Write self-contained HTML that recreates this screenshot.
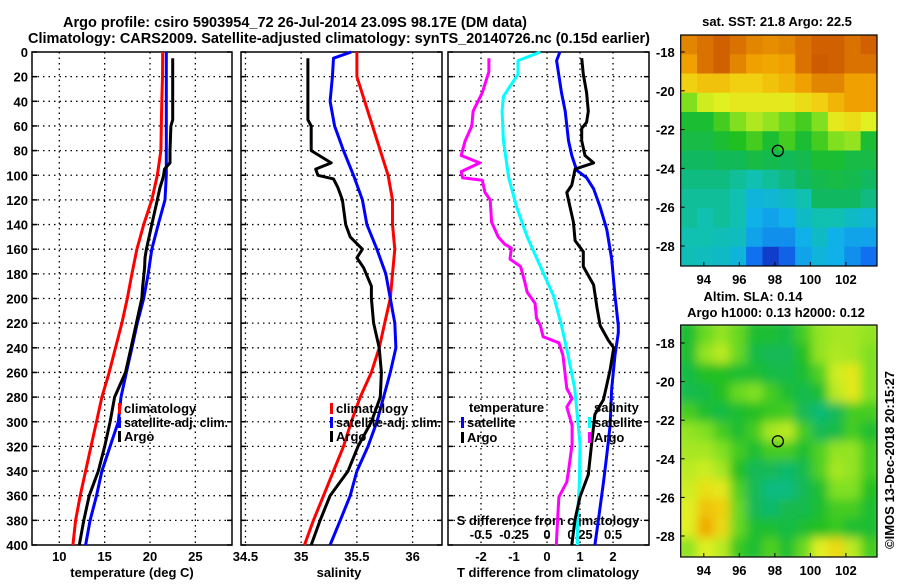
<!DOCTYPE html>
<html><head><meta charset="utf-8"><style>
html,body{margin:0;padding:0;background:#fff}
svg text{font-family:"Liberation Sans",Arial,sans-serif;font-weight:bold;fill:#000}
</style></head><body>
<svg id="chart" width="900" height="580" viewBox="0 0 900 580" xmlns="http://www.w3.org/2000/svg">
<rect width="900" height="580" fill="#fff"/>
<text x="63" y="27" font-size="14.5" textLength="464" lengthAdjust="spacingAndGlyphs">Argo profile: csiro 5903954_72 26-Jul-2014 23.09S 98.17E (DM data)</text>
<text x="28" y="43" font-size="14.5" textLength="622" lengthAdjust="spacingAndGlyphs">Climatology: CARS2009. Satellite-adjusted climatology: synTS_20140726.nc (0.15d earlier)</text>
<g id="g"></g>
</svg>
<script>
// ---- data ----
const climDepth=[0,20,40,60,80,100,120,140,160,180,200,220,240,260,280,300,320,340,360,380,400];
const climTemp=[21.4,21.38,21.3,21.25,21.2,20.8,20.2,19.3,18.55,18.0,17.5,16.9,16.2,15.5,14.7,14.1,13.5,12.9,12.3,11.8,11.5];
const satTemp=[21.8,21.8,21.8,21.8,21.8,21.8,21.65,20.9,20.2,19.8,19.3,18.6,18.0,17.4,16.8,16.5,15.6,14.7,14.1,13.4,12.9];
const climSal=[35.50,35.50,35.57,35.64,35.71,35.78,35.82,35.82,35.84,35.82,35.80,35.75,35.70,35.63,35.53,35.45,35.38,35.29,35.20,35.11,35.03];
const satSalDepth=[0,5,20,40,60,80,100,120,140,160,180,200,220,240,260,280,300,320,340,360,380,400];
const satSal=[35.45,35.29,35.28,35.26,35.30,35.38,35.47,35.55,35.59,35.68,35.76,35.80,35.84,35.85,35.80,35.74,35.68,35.60,35.50,35.44,35.35,35.26];
const argoDepth=[5,20,40,55,60,80,90,95,100,103,110,120,140,150,160,167,175,190,200,220,240,260,280,300,320,340,360,380,400];
const argoTemp=[22.5,22.5,22.5,22.5,22.3,22.2,22.2,21.6,21.5,21.4,21.1,20.8,20.2,19.9,19.6,19.45,19.4,19.2,19.1,18.5,17.9,17.3,16.1,15.6,15.0,14.3,13.3,12.7,12.2];
const argoSal=[35.06,35.06,35.06,35.06,35.09,35.09,35.27,35.13,35.15,35.29,35.33,35.37,35.40,35.44,35.55,35.50,35.56,35.63,35.63,35.65,35.70,35.72,35.71,35.63,35.51,35.42,35.26,35.17,35.09];
const dSalArgoDepth=[5,16,33,48,60,72,84,90,97,102,104,114,120,138,150,156,159,168,174,186,195,204,216,222,231,236,246,273,281,288,303,318,334,349,361,379,400];
const dSalArgo=[-0.44,-0.44,-0.49,-0.56,-0.57,-0.62,-0.65,-0.51,-0.65,-0.64,-0.49,-0.47,-0.43,-0.42,-0.37,-0.32,-0.27,-0.28,-0.20,-0.17,-0.15,-0.09,-0.08,-0.05,-0.03,0.09,0.12,0.15,0.19,0.15,0.19,0.19,0.17,0.15,0.09,0.08,0.07];
const dSalSatDepth=[0,7,18,36,48,72,102,126,150,174,198,222,246,273,318,349,379,400];
const dSalSat=[-0.05,-0.22,-0.22,-0.33,-0.34,-0.33,-0.29,-0.23,-0.15,-0.05,0.05,0.11,0.16,0.21,0.25,0.245,0.23,0.23];
const dTempSatDepth=[0,7,33,48,72,84,96,102,111,126,144,168,198,222,228,246,273,303,327,349,379,400];
const dTempSat=[0.39,0.29,0.44,0.55,0.65,0.75,0.90,1.2,1.41,1.61,1.81,1.96,2.06,2.16,2.16,2.06,1.96,1.91,1.81,1.71,1.56,1.45];
const dTempArgoDepth=[5,18,33,48,57,62,72,84,90,95,108,114,126,138,153,162,174,189,207,222,234,240,258,282,294,318,343,361,379,400];
const dTempArgo=[1.05,1.10,1.20,1.25,1.20,1.05,1.05,1.15,1.41,0.85,0.75,0.60,0.70,0.80,0.85,1.10,1.10,1.41,1.51,1.61,1.86,2.02,1.91,1.71,1.45,1.35,1.25,1.0,0.85,0.75];
const depthTicks=[0,20,40,60,80,100,120,140,160,180,200,220,240,260,280,300,320,340,360,380,400];
const tempTicks=[10,15,20,25];
const salTicks=[34.5,35,35.5,36];
const dTempTicks=[-2,-1,0,1,2];
const dSalTickLabels=["-0.5","-0.25","0","0.25","0.5"];
const dSalTicks=[-0.5,-0.25,0,0.25,0.5];
const sstGrid=[
[0.88,0.9,0.92,0.9,0.88,0.87,0.88,0.9,0.92,0.92,0.9,0.92],
[0.85,0.9,0.92,0.88,0.85,0.84,0.85,0.9,0.93,0.92,0.9,0.9],
[0.78,0.8,0.8,0.78,0.78,0.8,0.82,0.85,0.88,0.88,0.85,0.85],
[0.6,0.68,0.7,0.72,0.72,0.72,0.72,0.75,0.78,0.82,0.85,0.85],
[0.5,0.5,0.55,0.6,0.65,0.62,0.58,0.55,0.6,0.72,0.75,0.7],
[0.48,0.48,0.5,0.52,0.55,0.5,0.55,0.5,0.55,0.6,0.62,0.5],
[0.45,0.45,0.46,0.46,0.48,0.47,0.46,0.47,0.5,0.5,0.48,0.48],
[0.42,0.42,0.42,0.4,0.38,0.4,0.42,0.45,0.47,0.48,0.47,0.45],
[0.4,0.4,0.4,0.38,0.32,0.33,0.35,0.38,0.45,0.45,0.45,0.42],
[0.4,0.38,0.4,0.38,0.3,0.28,0.3,0.35,0.38,0.38,0.35,0.33],
[0.38,0.38,0.37,0.36,0.28,0.25,0.25,0.3,0.35,0.3,0.28,0.28],
[0.37,0.36,0.35,0.32,0.2,0.12,0.18,0.28,0.32,0.3,0.25,0.2]];
const slaGrid=[
[0.5,0.58,0.62,0.58,0.5,0.5,0.48,0.55,0.62,0.64,0.64,0.62],
[0.5,0.62,0.66,0.58,0.48,0.46,0.46,0.52,0.62,0.65,0.64,0.6],
[0.48,0.52,0.52,0.5,0.5,0.48,0.47,0.5,0.56,0.68,0.72,0.6],
[0.47,0.48,0.52,0.58,0.6,0.55,0.5,0.47,0.5,0.66,0.72,0.6],
[0.55,0.5,0.48,0.5,0.52,0.54,0.55,0.46,0.43,0.46,0.55,0.55],
[0.62,0.6,0.55,0.5,0.55,0.64,0.66,0.55,0.46,0.48,0.55,0.5],
[0.64,0.64,0.6,0.55,0.5,0.55,0.55,0.5,0.56,0.62,0.62,0.55],
[0.66,0.68,0.64,0.52,0.46,0.46,0.44,0.47,0.56,0.64,0.62,0.55],
[0.68,0.74,0.72,0.56,0.46,0.42,0.42,0.46,0.5,0.6,0.6,0.52],
[0.7,0.8,0.78,0.58,0.46,0.44,0.47,0.47,0.5,0.55,0.55,0.5],
[0.7,0.84,0.76,0.58,0.5,0.5,0.48,0.5,0.52,0.54,0.5,0.5],
[0.62,0.7,0.66,0.54,0.5,0.56,0.5,0.58,0.7,0.76,0.66,0.55]];
const lonTicks=[94,96,98,100,102];
const latTicks=[-18,-20,-22,-24,-26,-28];
const argoPos=[98.17,-23.09];

// ---- drawing ----
const NS='http://www.w3.org/2000/svg';
const G=document.getElementById('g');
function mk(tag,attrs,parent,txt){const e=document.createElementNS(NS,tag);for(const k in attrs)e.setAttribute(k,attrs[k]);if(txt!==undefined)e.textContent=txt;(parent||G).appendChild(e);return e;}
const Y0=52,Y1=545;
const yD=d=>Y0+d*(Y1-Y0)/400;
const panels=[
 {name:'temperature',x0:32,x1:232,vmin:6.99,vmax:29.04},
 {name:'salinity',x0:241,x1:442,vmin:34.46,vmax:36.264},
 {name:'difference',x0:448,x1:649,vmin:-3,vmax:3.09}];
function xf(p){return v=>p.x0+(v-p.vmin)*(p.x1-p.x0)/(p.vmax-p.vmin);}
const xT=xf(panels[0]),xS=xf(panels[1]),xDT=xf(panels[2]);
const xDS=v=>xDT(v*4);

function frame(p,xticks,xs){
  const g=mk('g',{});
  
  
  depthTicks.forEach(d=>{ if(d>0&&d<400) mk('line',{x1:p.x0,x2:p.x1,y1:yD(d),y2:yD(d),stroke:'#000','stroke-width':1.3,'stroke-dasharray':'1.5,4'},g);
    mk('line',{x1:p.x0,x2:p.x0+5,y1:yD(d),y2:yD(d),stroke:'#000','stroke-width':1.5},g);
    mk('line',{x1:p.x1-5,x2:p.x1,y1:yD(d),y2:yD(d),stroke:'#000','stroke-width':1.5},g);});
  xticks.forEach(v=>{const x=xs(v); mk('line',{x1:x,x2:x,y1:Y0,y2:Y1,stroke:'#000','stroke-width':1.3,'stroke-dasharray':'1.5,4'},g);});
  const r=mk('rect',{x:p.x0,y:Y0,width:p.x1-p.x0,height:Y1-Y0,fill:'none',stroke:'#000','stroke-width':1.5},g);
  
  
  return g;
}
function line(depths,vals,xs,color,name,w){
  const pts=depths.map((d,i)=>xs(vals[i]).toFixed(1)+','+yD(d).toFixed(1)).join(' ');
  const e=mk('polyline',{points:pts,fill:'none',stroke:color,'stroke-width':w||3,'stroke-linejoin':'round'});
  
  
}
function txt(x,y,s,size,anchor,name){const e=mk('text',{x:x,y:y,'font-size':size,'text-anchor':anchor||'start'},G,s);
  
  return e;}
function legendItem(x,y,color,label,name,tl){
  const b=mk('rect',{x:x,y:y-10,width:3,height:11,fill:color});
  
  
  const t=txt(x+6,y,label,13,'start',name+'-label');
  if(tl){t.setAttribute('textLength',tl);t.setAttribute('lengthAdjust','spacingAndGlyphs');}
}

frame(panels[0],tempTicks,xT);
frame(panels[1],salTicks,xS);
frame(panels[2],dTempTicks,xDT);

depthTicks.forEach(d=>txt(28,yD(d)+5,String(d),13,'end','depth-tick-label'));
tempTicks.forEach(v=>txt(xT(v),561,String(v),13,'middle','temperature-tick-label'));
salTicks.forEach(v=>txt(xS(v),561,String(v),13,'middle','salinity-tick-label'));
dTempTicks.forEach(v=>txt(xDT(v),561,String(v),13,'middle','t-difference-tick-label'));
dSalTicks.forEach((v,i)=>txt(xDS(v),539,dSalTickLabels[i],13,'middle','s-difference-tick-label'));
txt(132,577,'temperature (deg C)',13,'middle','temperature-axis-title');
txt(339,577,'salinity',13,'middle','salinity-axis-title');
txt(548,577,'T difference from climatology',13,'middle','t-difference-axis-title');
txt(548,525,'S difference from climatology',13,'middle','s-difference-axis-title');

line(climDepth,climTemp,xT,'#ff0000','climatology-temperature-line');
line(climDepth,satTemp,xT,'#0000ff','satellite-temperature-line');
line(argoDepth,argoTemp,xT,'#000000','argo-temperature-line');
line(climDepth,climSal,xS,'#ff0000','climatology-salinity-line');
line(satSalDepth,satSal,xS,'#0000ff','satellite-salinity-line');
line(argoDepth,argoSal,xS,'#000000','argo-salinity-line');
line(dSalArgoDepth,dSalArgo,xDS,'#ff00ff','argo-salinity-difference-line');
line(dSalSatDepth,dSalSat,xDS,'#00ffff','satellite-salinity-difference-line');
line(dTempSatDepth,dTempSat,xDT,'#0000ff','satellite-temperature-difference-line');
line(dTempArgoDepth,dTempArgo,xDT,'#000000','argo-temperature-difference-line');

legendItem(118,413,'#ff0000','climatology','legend-climatology');
legendItem(118,427,'#0000ff','satellite-adj. clim.','legend-satellite-adj',104);
legendItem(118,441,'#000000','Argo','legend-argo');
legendItem(330,413,'#ff0000','climatology','legend-climatology-sal');
legendItem(330,427,'#0000ff','satellite-adj. clim.','legend-satellite-adj-sal',105);
legendItem(330,441,'#000000','Argo','legend-argo-sal');
txt(469,412,'temperature',13,'start','legend-temperature-heading');
legendItem(461,427,'#0000ff','satellite','legend-temp-satellite');
legendItem(461,442,'#000000','Argo','legend-temp-argo');
txt(594,412,'salinity',13,'start','legend-salinity-heading');
legendItem(588,427,'#00ffff','satellite','legend-sal-satellite');
legendItem(588,442,'#ff00ff','Argo','legend-sal-argo');

// colormap
const cmStops=[[0,[16,32,170]],[0.1,[16,48,192]],[0.2,[16,112,240]],[0.3,[16,176,232]],[0.38,[16,192,176]],[0.45,[16,184,96]],[0.52,[32,192,32]],[0.6,[128,224,32]],[0.7,[224,240,32]],[0.78,[240,208,16]],[0.85,[240,160,0]],[0.92,[208,96,0]],[1,[180,60,0]]];
function cmap(v){for(let i=1;i<cmStops.length;i++){if(v<=cmStops[i][0]){const a=cmStops[i-1],b=cmStops[i],t=(v-a[0])/(b[0]-a[0]);const c=a[1].map((q,k)=>Math.round(q+(b[1][k]-q)*t));return 'rgb('+c.join(',')+')';}}return 'rgb(180,60,0)';}

function map(name,grid,x0,x1,y0,y1,lat18,lat28,blur){
  const lonA=92.7,lonB=103.75;
  const px=lon=>x0+(lon-lonA)*(x1-x0)/(lonB-lonA);
  const degPx=(lat28-lat18)/10;
  const py=lat=>lat18+(-18-lat)*degPx;
  const g=mk('g',{});
  
  
  const cid=name+'-clip';
  const cp=mk('clipPath',{id:cid},g);mk('rect',{x:x0,y:y0,width:x1-x0,height:y1-y0},cp);
  if(blur){const f=mk('filter',{id:name+'-blur',x:'-10%',y:'-10%',width:'120%',height:'120%'},g);mk('feGaussianBlur',{stdDeviation:blur},f);}
  const inner=mk('g',{'clip-path':'url(#'+cid+')'},g);
  const cells=mk('g',blur?{filter:'url(#'+name+'-blur)'}:{},inner);
  const nr=grid.length,nc=grid[0].length;
  const cw=(x1-x0)/nc,ch=(y1-y0)/nr;
  const pad=blur?6:0;
  grid.forEach((row,r)=>row.forEach((v,c)=>{
    const xl=x0+c*cw-(c==0?pad:0), xr=x0+(c+1)*cw+(c==nc-1?pad:0)+0.6;
    const yt=y0+r*ch-(r==0?pad:0), yb=y0+(r+1)*ch+(r==nr-1?pad:0)+0.6;
    const e=mk('rect',{x:xl,y:yt,width:xr-xl,height:yb-yt,fill:cmap(v)},cells);
    
    
  }));
  const fr=mk('rect',{x:x0,y:y0,width:x1-x0,height:y1-y0,fill:'none',stroke:'#000','stroke-width':1.2},g);
  
  
  const m=mk('circle',{cx:px(argoPos[0]),cy:py(argoPos[1]),r:5.5,fill:'none',stroke:'#000','stroke-width':1.3},g);
  
  
  lonTicks.forEach(l=>{mk('line',{x1:px(l),x2:px(l),y1:y1,y2:y1-4,stroke:'#000'},g);txt(px(l),y1+18,String(l),13,'middle',name+'-lon-label');});
  latTicks.forEach(l=>{mk('line',{x1:x0,x2:x0+4,y1:py(l),y2:py(l),stroke:'#000'},g);txt(x0-6,py(l)+5,String(l),13,'end',name+'-lat-label');});
}
map('sst-map',sstGrid,680.7,877,35,266,52,246,0);
map('sla-map',slaGrid,680.7,877,325,557,343,536,5);
txt(777,26,'sat. SST: 21.8 Argo: 22.5',13,'middle','sst-map-title');
txt(753,301,'Altim. SLA: 0.14',13,'middle','sla-map-title-1');
txt(776,317,'Argo h1000: 0.13 h2000: 0.12',13,'middle','sla-map-title-2');
const cr=txt(0,0,'©IMOS 13-Dec-2018 20:15:27',13,'middle','copyright-timestamp');
cr.setAttribute('font-weight','normal');
cr.setAttribute('transform','translate(894,460) rotate(-90)');
</script>
</body></html>
